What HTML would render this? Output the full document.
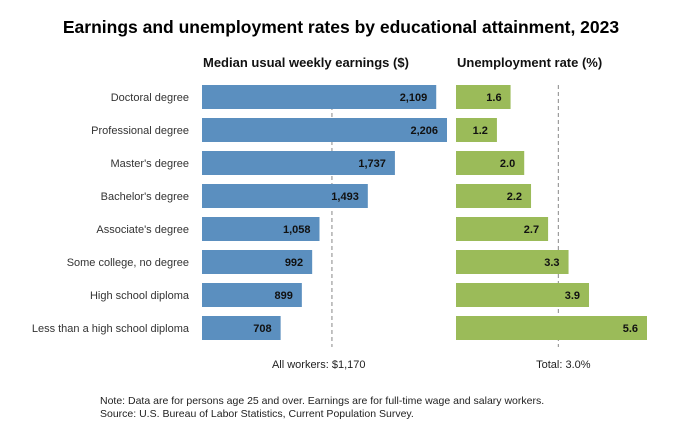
<!DOCTYPE html>
<html><head><meta charset="utf-8"><style>
body{margin:0;background:#fff;font-family:"Liberation Sans",sans-serif;}
svg text{font-family:"Liberation Sans",sans-serif;}
</style></head><body>
<svg width="683" height="443" viewBox="0 0 683 443">
<text x="341" y="33" text-anchor="middle" font-size="17.5" font-weight="bold" fill="#000">Earnings and unemployment rates by educational attainment, 2023</text>
<text x="203" y="67" font-size="13" font-weight="bold" fill="#111">Median usual weekly earnings ($)</text>
<text x="457" y="67" font-size="13" font-weight="bold" fill="#111">Unemployment rate (%)</text>
<g id="g"></g>
<text x="100" y="404" font-size="10.5" fill="#222">Note: Data are for persons age 25 and over. Earnings are for full-time wage and salary workers.</text>
<text x="100" y="417" font-size="10.5" fill="#222">Source: U.S. Bureau of Labor Statistics, Current Population Survey.</text>
</svg>
<script>
const categories=["Doctoral degree","Professional degree","Master's degree","Bachelor's degree","Associate's degree","Some college, no degree","High school diploma","Less than a high school diploma"];
const earnings=[2109,2206,1737,1493,1058,992,899,708];
const unemployment=[1.6,1.2,2.0,2.2,2.7,3.3,3.9,5.6];
const earningsRef=1170;
const unemploymentRef=3.0;
const NS="http://www.w3.org/2000/svg";
const g=document.getElementById('g');
const xE=v=>202+v*(245/2206);
const xU=v=>456+v*(191/5.6);
const yRow=i=>85+i*33;
function mk(t,a){const e=document.createElementNS(NS,t);for(const k in a)e.setAttribute(k,a[k]);g.appendChild(e);return e;}
// reference lines
let l=mk('line',{x1:xE(earningsRef),x2:xE(earningsRef),y1:85,y2:347,stroke:'#888','stroke-dasharray':'4,3'});


l=mk('line',{x1:xU(unemploymentRef),x2:xU(unemploymentRef),y1:85,y2:347,stroke:'#888','stroke-dasharray':'4,3'});


categories.forEach((c,i)=>{
 const y=yRow(i);
 let t=mk('text',{x:189,y:y+16,'text-anchor':'end','font-size':11,fill:'#333'});t.textContent=c;
 
 
 let r=mk('rect',{x:202,y:y,width:xE(earnings[i])-202,height:24,fill:'#5b8fbf'});
 
 
 t=mk('text',{x:xE(earnings[i])-9,y:y+16,'text-anchor':'end','font-size':11,'font-weight':'bold',fill:'#111'});t.textContent=earnings[i].toLocaleString('en-US');
 
 
 r=mk('rect',{x:456,y:y,width:xU(unemployment[i])-456,height:24,fill:'#9bbb59'});
 
 
 t=mk('text',{x:xU(unemployment[i])-9,y:y+16,'text-anchor':'end','font-size':11,'font-weight':'bold',fill:'#111'});t.textContent=unemployment[i].toFixed(1);
 
 
});
let t=mk('text',{x:xE(earningsRef)-60,y:368,'font-size':11,fill:'#222'});t.textContent='All workers: $'+earningsRef.toLocaleString('en-US');


t=mk('text',{x:xU(unemploymentRef)+5,y:368,'text-anchor':'middle','font-size':11,fill:'#222'});t.textContent='Total: '+unemploymentRef.toFixed(1)+'%';


</script>
</body></html>
